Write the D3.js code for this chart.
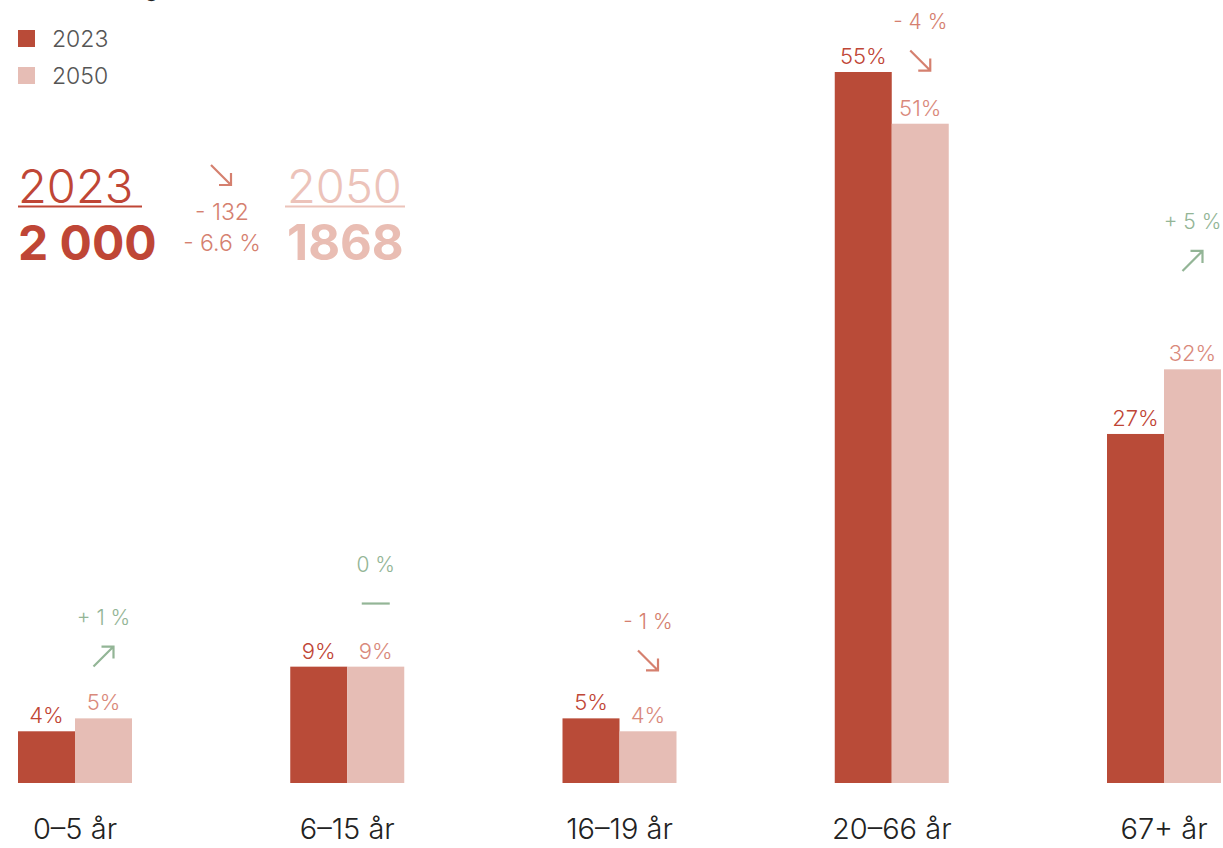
<!DOCTYPE html>
<html><head><meta charset="utf-8">
<script src="https://cdn.jsdelivr.net/npm/d3@7"></script>
<style>
html,body{margin:0;padding:0;background:#fff;}
svg{display:block;font-family:Inter,"Noto Sans",sans-serif;}
</style></head>
<body><svg id="c" width="1223" height="848"></svg>
<script>
const categories = ["0–5 år","6–15 år","16–19 år","20–66 år","67+ år"];
const values2023 = [4, 9, 5, 55, 27];
const values2050 = [5, 9, 4, 51, 32];
const changeLabels = ["+ 1 %","0 %","- 1 %","- 4 %","+ 5 %"];
const changeDir = ["up","flat","down","down","up"];
const changeLevel = [12.8, 16.9, 12.5, 58.9, 43.4];
const seriesNames = ["2023","2050"];
const totals = [2000, 1868];
const totalLabels = ["2 000","1868"];
const diffLabels = ["- 132","- 6.6 %"];

const C1 = "#b94b38", C2 = "#e6bdb5", T1 = "#bf4636", T2 = "#d9897b";
const GREEN = "#93b596", REDT = "#d5806f";

const svg = d3.select("#c");
const x = d3.scaleBand().domain(categories).range([18,1221]).paddingInner(1-114/272.25).paddingOuter(0);
const xs = d3.scaleBand().domain(seriesNames).range([0,x.bandwidth()]);
const y = d3.scaleLinear().domain([0,55]).range([783,72]);

// cut-off title
svg.append("text").attr("x",158).attr("y",-3).attr("text-anchor","end")
  .attr("font-size",20).attr("font-weight",700).attr("fill","#222").text("Aldersfordeling");

// legend
const leg = svg.append("g");
seriesNames.forEach((s,i)=>{
  leg.append("rect").attr("x",18).attr("y",30+i*37).attr("width",17).attr("height",17).attr("fill",i?C2:C1);
  leg.append("text").attr("x",52).attr("y",39+i*37).attr("dy","0.35em").attr("font-size",23).attr("font-weight",300)
    .attr("fill","#555").text(s);
});

// bars
const g = svg.append("g");
categories.forEach((c,i)=>{
  [values2023[i],values2050[i]].forEach((v,j)=>{
    const bx = x(c)+xs(seriesNames[j]);
    g.append("rect").attr("x",bx).attr("y",y(v)).attr("width",xs.bandwidth()).attr("height",y(0)-y(v))
      .attr("fill",j?C2:C1);
    g.append("text").attr("x",bx+xs.bandwidth()/2).attr("y",y(v)-8).attr("text-anchor","middle")
      .attr("font-size",22).attr("font-weight",300).attr("fill",j?T2:T1).text(v+"%");
  });
  const cx = x(c)+xs("2050")+xs.bandwidth()/2;
  const ty = y(changeLevel[i]);
  const col = changeDir[i]==="down"?REDT:GREEN;
  g.append("text").attr("x",cx).attr("y",ty).attr("dy","0.35em").attr("text-anchor","middle")
    .attr("font-size",21).attr("font-weight",300).attr("fill",col).text(changeLabels[i]);
  drawArrow(g, cx, ty+39, changeDir[i], col);
});

function drawArrow(sel, cx, cy, dir, col){
  const h = 10;
  let d;
  if(dir==="up") d = `M${cx-h},${cy+h}L${cx+h},${cy-h}M${cx-2},${cy-h}L${cx+h},${cy-h}L${cx+h},${cy+2}`;
  else if(dir==="down") d = `M${cx-h},${cy-h}L${cx+h},${cy+h}M${cx+h},${cy-2}L${cx+h},${cy+h}L${cx-2},${cy+h}`;
  else d = `M${cx-14},${cy}L${cx+14},${cy}`;
  sel.append("path").attr("d",d).attr("fill","none").attr("stroke",col).attr("stroke-width",2.2);
}

// x axis labels
const ax = svg.append("g").attr("transform","translate(0,829)")
  .call(d3.axisBottom(x).tickSize(0).tickPadding(0));
ax.select(".domain").remove();
ax.selectAll("text").attr("dy","0.35em").attr("y",0).attr("font-size",29).attr("font-weight",300)
  .attr("fill","#222").attr("font-family","Inter,'Noto Sans',sans-serif");

// summary block
const sb = svg.append("g");
sb.append("text").attr("x",18).attr("y",203).attr("font-size",47).attr("font-weight",300).attr("fill",T1).text(seriesNames[0]);
sb.append("line").attr("x1",18).attr("x2",142).attr("y1",206.5).attr("y2",206.5).attr("stroke",T1).attr("stroke-width",2);
sb.append("text").attr("x",18).attr("y",260).attr("font-size",48).attr("font-weight",700).attr("fill",T1).text(totalLabels[0]);
sb.append("text").attr("x",287).attr("y",203).attr("font-size",47).attr("font-weight",300).attr("fill","#ecc3ba").text(seriesNames[1]);
sb.append("line").attr("x1",285).attr("x2",405).attr("y1",206.5).attr("y2",206.5).attr("stroke","#ecc3ba").attr("stroke-width",2);
sb.append("text").attr("x",287).attr("y",260).attr("font-size",49).attr("font-weight",700).attr("fill","#e9bdb3").text(totalLabels[1]);
drawArrow(sb, 221, 175, "down", REDT);
sb.append("text").attr("x",222).attr("y",212).attr("dy","0.35em").attr("text-anchor","middle").attr("font-size",23).attr("font-weight",300).attr("fill",REDT).text(diffLabels[0]);
sb.append("text").attr("x",222).attr("y",243).attr("dy","0.35em").attr("text-anchor","middle").attr("font-size",23).attr("font-weight",300).attr("fill",REDT).text(diffLabels[1]);
</script></body></html>
